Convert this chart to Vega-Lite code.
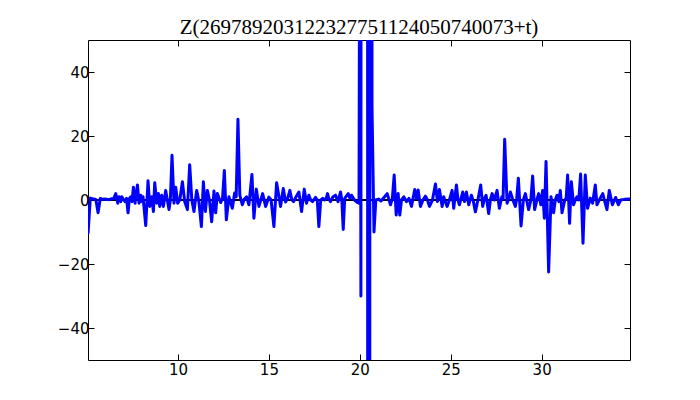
{
  "$schema": "https://vega.github.io/schema/vega-lite/v6.json",
  "width": 542,
  "height": 320,
  "autosize": {"type": "none"},
  "padding": {"left": 88, "top": 40, "right": 70, "bottom": 40},
  "background": "white",
  "title": {"text": "Z(269789203122327751124050740073+t)", "font": "Liberation Serif", "fontSize": 21, "fontWeight": "normal", "color": "black", "offset": 2, "anchor": "middle"},
  "config": {
    "view": {"stroke": "black", "strokeWidth": 1},
    "axis": {"grid": false, "domain": false, "labelFont": "DejaVu Sans", "labelFontSize": 15, "labelColor": "black", "tickColor": "black", "tickSize": -6, "tickWidth": 1, "title": null}
  },
  "data": {"values": [
    {"t":5.055,"z":-10.3},{"t":5.176,"z":0.6},{"t":5.30,"z":0.4},{"t":5.478,"z":0.2},{"t":5.604,"z":-4},{"t":5.725,"z":0.5},{"t":5.85,"z":0.2},{"t":6.0,"z":0.3},{"t":6.2,"z":0.1},{"t":6.35,"z":0.4},{"t":6.467,"z":0.5},{"t":6.577,"z":2},{"t":6.687,"z":-1},{"t":6.758,"z":1},{"t":6.852,"z":-0.5},{"t":6.907,"z":1},{"t":7.0,"z":0.2},{"t":7.088,"z":-0.5},{"t":7.17,"z":0.5},{"t":7.253,"z":-4},{"t":7.33,"z":0.5},{"t":7.401,"z":1},{"t":7.47,"z":-0.5},{"t":7.549,"z":4},{"t":7.637,"z":-1},{"t":7.769,"z":4.7},{"t":7.857,"z":-1},{"t":7.951,"z":1.5},{"t":8.01,"z":-0.5},{"t":8.077,"z":1},{"t":8.225,"z":-8},{"t":8.352,"z":6},{"t":8.445,"z":-2},{"t":8.555,"z":1},{"t":8.648,"z":-3.6},{"t":8.72,"z":5.4},{"t":8.83,"z":-1},{"t":8.923,"z":2},{"t":8.995,"z":-2},{"t":9.104,"z":1.5},{"t":9.198,"z":-2},{"t":9.324,"z":3},{"t":9.505,"z":-3},{"t":9.58,"z":0},{"t":9.67,"z":14},{"t":9.78,"z":-1},{"t":9.874,"z":4},{"t":9.984,"z":-1},
    {"t":10.10,"z":0},{"t":10.242,"z":5.7},{"t":10.368,"z":-0.5},{"t":10.516,"z":-3},{"t":10.643,"z":11},{"t":10.76,"z":0},{"t":10.879,"z":-3.6},{"t":11.027,"z":3},{"t":11.15,"z":-0.5},{"t":11.286,"z":-8.3},{"t":11.396,"z":5.7},{"t":11.505,"z":-3.6},{"t":11.615,"z":3},{"t":11.73,"z":0},{"t":11.852,"z":-6.8},{"t":11.978,"z":2.8},{"t":12.071,"z":-4},{"t":12.165,"z":2},{"t":12.346,"z":-0.8},{"t":12.45,"z":0.5},{"t":12.549,"z":9.2},{"t":12.659,"z":-6.2},{"t":12.802,"z":1},{"t":12.989,"z":-2.6},{"t":13.115,"z":2.2},{"t":13.2,"z":1},{"t":13.297,"z":25.2},{"t":13.40,"z":1.5},{"t":13.538,"z":-1.5},{"t":13.65,"z":0.3},{"t":13.775,"z":1},{"t":13.901,"z":-1.5},{"t":14.066,"z":8},{"t":14.176,"z":-5.7},{"t":14.308,"z":3.4},{"t":14.451,"z":-2},{"t":14.654,"z":2},{"t":14.819,"z":-2},{"t":15.0,"z":0.9},
    {"t":15.121,"z":0},{"t":15.275,"z":-8.3},{"t":15.423,"z":5.4},{"t":15.643,"z":-2},{"t":15.791,"z":3.6},{"t":15.918,"z":-0.6},{"t":16.03,"z":0.5},{"t":16.154,"z":3},{"t":16.26,"z":0},{"t":16.357,"z":-0.5},{"t":16.495,"z":1},{"t":16.648,"z":2.5},{"t":16.797,"z":-3.6},{"t":16.945,"z":3.4},{"t":17.071,"z":-1},{"t":17.198,"z":1.5},{"t":17.30,"z":0},{"t":17.401,"z":-0.5},{"t":17.566,"z":0.8},{"t":17.66,"z":0},{"t":17.747,"z":-8.3},{"t":17.85,"z":0},{"t":17.96,"z":0.5},{"t":18.06,"z":0},{"t":18.15,"z":0.5},{"t":18.225,"z":2},{"t":18.30,"z":0.3},{"t":18.39,"z":-0.5},{"t":18.527,"z":1},{"t":18.665,"z":1.5},{"t":18.802,"z":-0.5},{"t":18.94,"z":2.5},{"t":19.01,"z":0},{"t":19.088,"z":-9.2},{"t":19.17,"z":0.5},{"t":19.363,"z":2},{"t":19.462,"z":0.5},{"t":19.544,"z":1.5},{"t":19.709,"z":0},{"t":19.874,"z":-0.8},{"t":19.956,"z":-1},
    {"t":20.016,"z":150},{"t":20.06,"z":-30},{"t":20.104,"z":900},{"t":20.40,"z":900},{"t":20.46,"z":-900},{"t":20.52,"z":-900},{"t":20.58,"z":900},{"t":20.62,"z":900},{"t":20.67,"z":29},{"t":20.78,"z":-10},{"t":20.88,"z":0},
    {"t":21.028,"z":0.3},{"t":21.165,"z":-0.3},{"t":21.33,"z":0.8},{"t":21.505,"z":2},{"t":21.687,"z":-1.5},{"t":21.79,"z":0.5},{"t":21.89,"z":7.8},{"t":22.0,"z":-4.7},{"t":22.11,"z":2},{"t":22.198,"z":-4.7},{"t":22.291,"z":0},{"t":22.418,"z":1},{"t":22.566,"z":-0.5},{"t":22.703,"z":0.5},{"t":22.841,"z":-2},{"t":23.022,"z":3.3},{"t":23.115,"z":0.5},{"t":23.209,"z":3.1},{"t":23.335,"z":-2},{"t":23.473,"z":0},{"t":23.61,"z":1.2},{"t":23.72,"z":0},{"t":23.83,"z":-2},{"t":23.995,"z":0},{"t":24.159,"z":5},{"t":24.269,"z":-0.5},{"t":24.379,"z":3.3},{"t":24.527,"z":-2},{"t":24.615,"z":1},{"t":24.70,"z":-0.5},{"t":24.802,"z":-2},
    {"t":24.929,"z":0},{"t":25.077,"z":3},{"t":25.165,"z":-2.6},{"t":25.313,"z":4.7},{"t":25.40,"z":0},{"t":25.478,"z":-1.5},{"t":25.659,"z":2.5},{"t":25.753,"z":-0.5},{"t":25.863,"z":2.5},{"t":25.989,"z":-1.5},{"t":26.137,"z":1.5},{"t":26.247,"z":-0.5},{"t":26.357,"z":-3.7},{"t":26.495,"z":0},{"t":26.648,"z":4.7},{"t":26.758,"z":-2},{"t":26.85,"z":0.5},{"t":26.945,"z":1.5},{"t":27.088,"z":-4.2},{"t":27.18,"z":0},{"t":27.275,"z":2},{"t":27.401,"z":0},{"t":27.549,"z":3},{"t":27.676,"z":-2.6},{"t":27.813,"z":1},{"t":27.88,"z":0.5},{"t":27.967,"z":19},{"t":28.099,"z":-1},{"t":28.198,"z":0.5},{"t":28.28,"z":2.5},{"t":28.418,"z":0},{"t":28.555,"z":-2},{"t":28.63,"z":0.5},{"t":28.72,"z":6.8},{"t":28.868,"z":-8.1},{"t":28.995,"z":0},{"t":29.104,"z":2},{"t":29.286,"z":-3},{"t":29.407,"z":0},{"t":29.505,"z":7.5},{"t":29.615,"z":-3},{"t":29.736,"z":0},{"t":29.835,"z":2},
    {"t":29.956,"z":-1.5},{"t":30.055,"z":3},{"t":30.148,"z":-5.7},{"t":30.242,"z":12},{"t":30.385,"z":-22.5},{"t":30.516,"z":1},{"t":30.659,"z":-4},{"t":30.75,"z":0},{"t":30.846,"z":1.5},{"t":30.945,"z":-0.5},{"t":31.027,"z":3},{"t":31.121,"z":-4},{"t":31.275,"z":0},{"t":31.35,"z":0.5},{"t":31.429,"z":7.8},{"t":31.538,"z":-7.3},{"t":31.632,"z":5.7},{"t":31.758,"z":-1.5},{"t":31.85,"z":0},{"t":31.945,"z":1},{"t":32.044,"z":0},{"t":32.143,"z":8.1},{"t":32.275,"z":-13.5},{"t":32.401,"z":7.8},{"t":32.527,"z":-2.6},{"t":32.676,"z":0.6},{"t":32.802,"z":-1},{"t":32.951,"z":4.7},{"t":33.044,"z":-1.5},{"t":33.17,"z":0},{"t":33.363,"z":2},{"t":33.45,"z":0},{"t":33.593,"z":-3},{"t":33.72,"z":3},{"t":33.89,"z":-1.5},{"t":34.071,"z":0.8},{"t":34.22,"z":-1.5},{"t":34.346,"z":0},{"t":34.566,"z":0.2},{"t":34.86,"z":0.3}
  ]},
  "layer": [
    {
      "mark": {"type": "rule", "color": "black", "strokeWidth": 1},
      "encoding": {"y": {"datum": 0, "type": "quantitative", "scale": {"domain": [-50, 50]}, "axis": null}}
    },
    {
      "mark": {"type": "line", "color": "#0000ff", "strokeWidth": 3, "clip": true, "strokeJoin": "round", "strokeCap": "round"},
      "encoding": {
        "x": {"field": "t", "type": "quantitative", "scale": {"domain": [5.05, 34.86], "nice": false, "zero": false}, "axis": {"orient": "bottom", "values": [10, 15, 20, 25, 30], "labelPadding": 8}},
        "y": {"field": "z", "type": "quantitative", "scale": {"domain": [-50, 50], "nice": false}, "axis": {"orient": "left", "values": [-40, -20, 0, 20, 40], "labelPadding": 5}}
      }
    },
    {
      "mark": {"type": "line", "opacity": 0, "clip": true},
      "encoding": {
        "x": {"field": "t", "type": "quantitative", "axis": {"orient": "top", "values": [10, 15, 20, 25, 30], "labels": false}},
        "y": {"field": "z", "type": "quantitative", "axis": {"orient": "right", "values": [-40, -20, 0, 20, 40], "labels": false}}
      }
    }
  ],
  "resolve": {"axis": {"x": "independent", "y": "independent"}}
}
